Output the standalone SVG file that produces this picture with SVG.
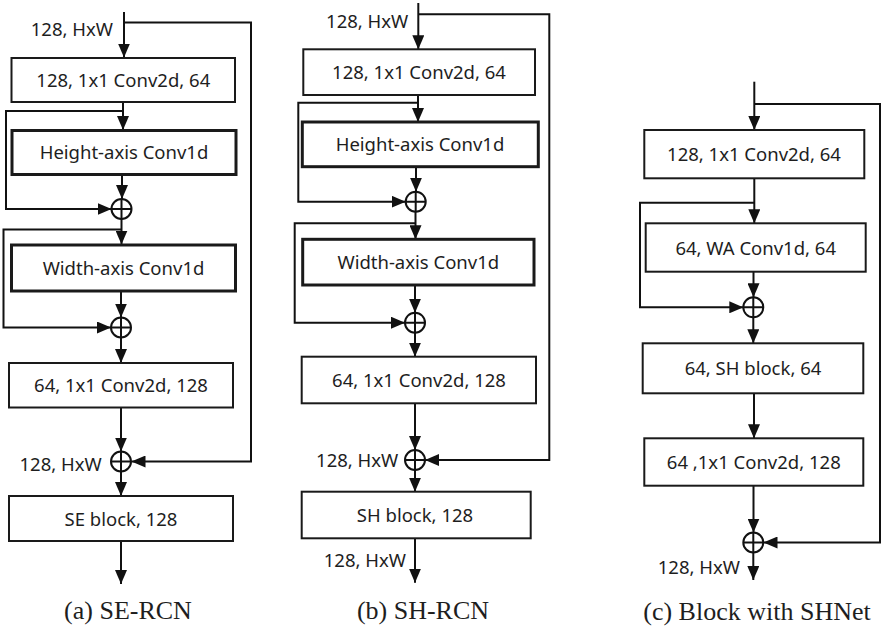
<svg xmlns="http://www.w3.org/2000/svg" width="887" height="631" viewBox="0 0 887 631">
<defs>
<marker id="ah" viewBox="0 0 14 12" refX="14" refY="6" markerWidth="14" markerHeight="12" markerUnits="userSpaceOnUse" orient="auto">
<path d="M0,0 L14,6 L0,12 z" fill="#111"/>
</marker>
<style>
.box{fill:#fff;stroke:#1a1a1a;stroke-width:2}
.thick{stroke-width:3}
.t{font-family:"Noto Sans","Open Sans","Liberation Sans",sans-serif;font-size:18.5px;fill:#1e1e1e;text-anchor:middle}
.lbl{font-family:"Noto Sans","Open Sans","Liberation Sans",sans-serif;font-size:18.5px;fill:#1e1e1e;text-anchor:end}
.cap{font-family:"Liberation Serif","DejaVu Serif",serif;font-size:26px;fill:#1e1e1e;text-anchor:middle}
.ln{fill:none;stroke:#111;stroke-width:2}
.arr{fill:none;stroke:#111;stroke-width:2;marker-end:url(#ah)}
.sum{fill:#fff;stroke:#111;stroke-width:2}
</style>
</defs>
<rect width="887" height="631" fill="#fff"/>

<g id="connectors">
<!-- panel a -->
<path class="arr" d="M124,12 V57.5"/>
<path class="arr" d="M124,22.5 H251 V461.5 H131.5"/>
<path class="arr" d="M123,102 V130"/>
<path class="arr" d="M123,111 H6 V209 H111.5"/>
<path class="arr" d="M122,175 V199"/>
<path class="arr" d="M121.5,219 V244.5"/>
<path class="arr" d="M121.5,229.5 H3.5 V327.5 H111"/>
<path class="arr" d="M121,291 V317.5"/>
<path class="arr" d="M121,337.5 V363"/>
<path class="arr" d="M121,407.5 V451.5"/>
<path class="arr" d="M121,471.5 V496"/>
<path class="arr" d="M121,541 V584"/>
<!-- panel b -->
<path class="arr" d="M418.3,3 V49.3"/>
<path class="arr" d="M418.3,14.3 H549.3 V460 H425"/>
<path class="arr" d="M418,95 V122"/>
<path class="arr" d="M418,102.7 H298.3 V201.7 H405.7"/>
<path class="arr" d="M416,166.7 V191.7"/>
<path class="arr" d="M415.5,211.7 V239.3"/>
<path class="arr" d="M415.5,223.3 H294.7 V322.7 H405"/>
<path class="arr" d="M415,285 V312.7"/>
<path class="arr" d="M415,332.7 V356.7"/>
<path class="arr" d="M415,403.3 V450"/>
<path class="arr" d="M415,470 V491.7"/>
<path class="arr" d="M415,538.3 V582.7"/>
<!-- panel c -->
<path class="arr" d="M754.3,81.7 V130"/>
<path class="arr" d="M754.3,104 H880 V542.5 H763.5"/>
<path class="arr" d="M754.3,178.3 V223.3"/>
<path class="arr" d="M754.3,202.7 H640 V307.3 H743.3"/>
<path class="arr" d="M753.5,271.7 V297.3"/>
<path class="arr" d="M753.3,317.3 V343.3"/>
<path class="arr" d="M754,393.3 V438.3"/>
<path class="arr" d="M753.5,485.7 V532.5"/>
<path class="arr" d="M753.3,552.5 V580"/>
</g>

<!-- Panel (a) -->
<g id="a-in"><text class="lbl" x="113" y="36">128, HxW</text></g>
<g id="a-conv1"><rect class="box" x="11.5" y="58" width="223.5" height="44"/><text class="t" x="123.3" y="87">128, 1x1 Conv2d, 64</text></g>
<g id="a-height"><rect class="box thick" x="12" y="130.5" width="224" height="44"/><text class="t" x="124" y="159">Height-axis Conv1d</text></g>
<g id="a-sum1"><circle class="sum" cx="121.5" cy="209" r="10"/><path class="ln" d="M111.5,209 H131.5 M121.5,199 V219"/></g>
<g id="a-width"><rect class="box thick" x="11.5" y="245" width="224" height="46"/><text class="t" x="123.5" y="275">Width-axis Conv1d</text></g>
<g id="a-sum2"><circle class="sum" cx="121" cy="327.5" r="10"/><path class="ln" d="M111,327.5 H131 M121,317.5 V337.5"/></g>
<g id="a-conv2"><rect class="box" x="9" y="363" width="224" height="44.5"/><text class="t" x="121" y="392">64, 1x1 Conv2d, 128</text></g>
<g id="a-sum3"><circle class="sum" cx="121" cy="461.5" r="10"/><path class="ln" d="M111,461.5 H131 M121,451.5 V471.5"/><text class="lbl" x="101.7" y="470.5">128, HxW</text></g>
<g id="a-se"><rect class="box" x="9" y="496" width="224" height="45"/><text class="t" x="121" y="525.5">SE block, 128</text></g>
<g id="a-cap"><text class="cap" x="128" y="619">(a) SE-RCN</text></g>

<!-- Panel (b) -->
<g id="b-in"><text class="lbl" x="408.3" y="27.7">128, HxW</text></g>
<g id="b-conv1"><rect class="box" x="303.3" y="49.3" width="231.7" height="45.7"/><text class="t" x="419" y="79">128, 1x1 Conv2d, 64</text></g>
<g id="b-height"><rect class="box thick" x="302.3" y="122" width="236" height="44.7"/><text class="t" x="420" y="151">Height-axis Conv1d</text></g>
<g id="b-sum1"><circle class="sum" cx="415.7" cy="201.7" r="10"/><path class="ln" d="M405.7,201.7 H425.7 M415.7,191.7 V211.7"/></g>
<g id="b-width"><rect class="box thick" x="302.7" y="239.3" width="231.3" height="45.7"/><text class="t" x="418.3" y="269">Width-axis Conv1d</text></g>
<g id="b-sum2"><circle class="sum" cx="415" cy="322.7" r="10"/><path class="ln" d="M405,322.7 H425 M415,312.7 V332.7"/></g>
<g id="b-conv2"><rect class="box" x="301.7" y="356.7" width="234.3" height="46.6"/><text class="t" x="419" y="387">64, 1x1 Conv2d, 128</text></g>
<g id="b-sum3"><circle class="sum" cx="415" cy="460" r="10"/><path class="ln" d="M405,460 H425 M415,450 V470"/><text class="lbl" x="398.3" y="466.7">128, HxW</text></g>
<g id="b-sh"><rect class="box" x="301.7" y="491.7" width="229" height="46.6"/><text class="t" x="415" y="521.7">SH block, 128</text></g>
<g id="b-out"><text class="lbl" x="406" y="566.7">128, HxW</text></g>
<g id="b-cap"><text class="cap" x="423" y="619">(b) SH-RCN</text></g>

<!-- Panel (c) -->
<g id="c-conv1"><rect class="box" x="644.3" y="130" width="220" height="48.3"/><text class="t" x="754" y="161">128, 1x1 Conv2d, 64</text></g>
<g id="c-wa"><rect class="box" x="645.7" y="223.3" width="220" height="48.4"/><text class="t" x="755.7" y="254.5">64, WA Conv1d, 64</text></g>
<g id="c-sum1"><circle class="sum" cx="753.3" cy="307.3" r="10"/><path class="ln" d="M743.3,307.3 H763.3 M753.3,297.3 V317.3"/></g>
<g id="c-sh"><rect class="box" x="642.7" y="343.3" width="220.6" height="50"/><text class="t" x="753" y="375">64, SH block, 64</text></g>
<g id="c-conv2"><rect class="box" x="644.3" y="438.3" width="219" height="47.4"/><text class="t" x="753.8" y="469">64 ,1x1 Conv2d, 128</text></g>
<g id="c-sum2"><circle class="sum" cx="753.3" cy="542.5" r="10"/><path class="ln" d="M743.3,542.5 H763.3 M753.3,532.5 V552.5"/><text class="lbl" x="740" y="574.3">128, HxW</text></g>
<g id="c-cap"><text class="cap" x="757" y="620">(c) Block with SHNet</text></g>
</svg>
